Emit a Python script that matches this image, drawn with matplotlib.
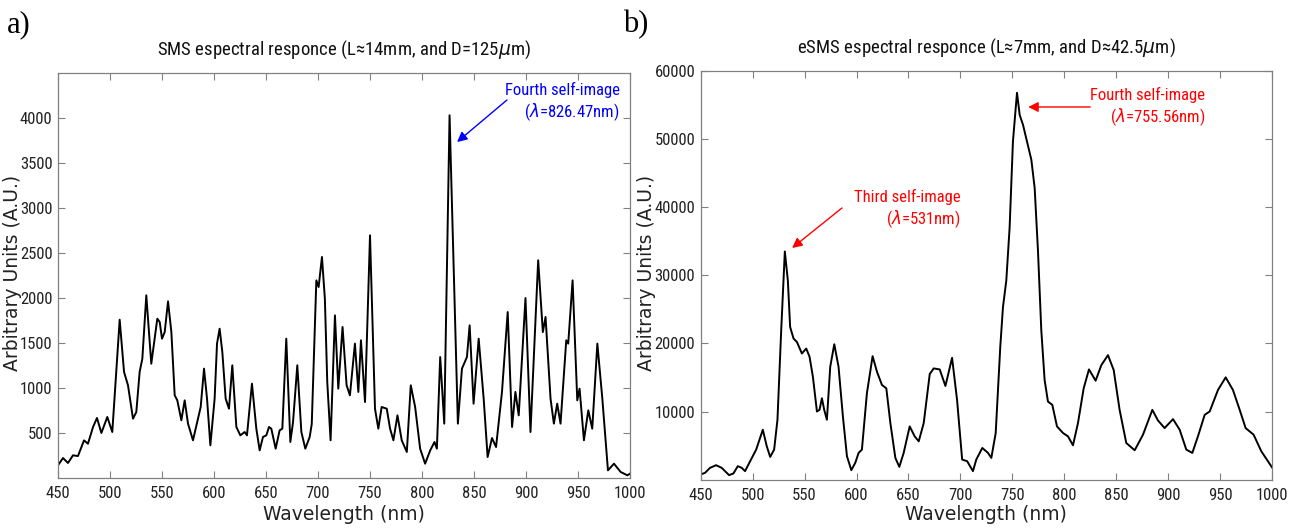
import matplotlib
matplotlib.use("Agg")
import matplotlib.pyplot as plt
from matplotlib import font_manager

# SMS spectrum (panel a)
sms_wl = [450, 454.8, 459.6, 464.4, 469.2, 475, 478.8, 483.7, 487.5, 491.7,
          497.4, 502.2, 509.3, 513.5, 517.3, 522.1, 525.3, 528.5, 531.1, 534.9,
          539.7, 542.9, 545.5, 547.8, 550, 552.6, 555.8, 559, 562.2, 564.7,
          568.6, 571.8, 575, 579.8, 584.6, 587.2, 590.4, 593.3, 596.5, 600.6,
          602.9, 605.4, 608, 611.2, 614.4, 617.6, 621.5, 625.3, 629.5, 631.7,
          636.5, 640.7, 643.9, 647.1, 650.3, 652.9, 655.1, 659.3, 663.1, 665.7,
          669.5, 673.4, 676, 680.1, 684, 687.8, 692, 694, 698.4, 700.6,
          703.8, 706.6, 708.9, 712.1, 716.3, 719.5, 723.6, 727.5, 730.7, 735.5,
          738.8, 741.3, 745.2, 750, 754.8, 758, 761.2, 766.1, 769.3, 772.5,
          776.4, 780.5, 785.4, 789.2, 793.4, 798.2, 803, 807.9, 812, 814.3,
          817.5, 821.4, 826.5, 830.4, 834.5, 838.4, 843.2, 845.8, 849.6, 854.5,
          859.3, 863.1, 867.3, 871.2, 876.9, 882.4, 886.6, 889.8, 893, 899.5,
          904.3, 911.7, 916.2, 918.8, 923.6, 926.8, 930, 933.2, 938.7, 940.6,
          944.8, 949.3, 951.5, 955.7, 959.9, 963.7, 968.6, 973.4, 978.8, 984.6,
          991, 997.5, 1000]
sms_val = [141, 222, 167, 252, 244, 418, 381, 567, 667, 500,
           678, 511, 1759, 1178, 1030, 659, 733, 1178, 1326, 2030,
           1270, 1548, 1770, 1733, 1548, 1622, 1963, 1622, 919, 863,
           641, 863, 604, 419, 659, 789, 1215, 881, 363, 881,
           1493, 1659, 1400, 881, 770, 1252, 567, 474, 511, 474,
           1048, 548, 307, 456, 474, 567, 548, 326, 530, 548,
           1548, 400, 622, 1252, 511, 326, 456, 600, 2196, 2122,
           2456, 1993, 1067, 419, 1807, 993, 1678, 1030, 919, 1493,
           956, 1530, 844, 2696, 770, 548, 789, 770, 548, 419,
           696, 419, 289, 1030, 789, 326, 159, 307, 400, 326,
           1344, 604, 4030, 2363, 604, 1215, 1344, 1696, 826, 1548,
           881, 233, 444, 344, 956, 1844, 567, 956, 696, 2000,
           511, 2419, 1622, 1789, 881, 604, 826, 604, 1530, 1493,
           2196, 863, 993, 419, 752, 548, 1493, 881, 85, 159,
           67, 30, 48]

# eSMS spectrum (panel b)
esms_wl = [450, 454.2, 459, 464.8, 470.2, 477.3, 481.5, 485.7, 489.5, 492.7,
           497.6, 503.4, 509.8, 513.6, 516.9, 520.7, 523.9, 527.5, 531, 533.9,
           536.1, 539.4, 542.6, 547.4, 551.6, 554.8, 558, 561.9, 564.4, 566.7,
           568.9, 571.5, 574.7, 578.6, 582.7, 586.9, 590.8, 595, 598.8, 602,
           605.2, 610, 615.5, 619.7, 624.5, 628.7, 632.6, 637.4, 641.2, 645.4,
           651.2, 656, 659.9, 664.7, 670.5, 674.3, 680.1, 685.6, 692, 696.8,
           701.7, 706.5, 712.1, 715.3, 721.1, 726.6, 729.8, 734, 738.4, 741,
           744.2, 747.4, 750.6, 754.5, 757.1, 760.3, 764.1, 768.3, 771.5, 774.7,
           777.9, 781.1, 784.3, 788.5, 793, 798.8, 803.6, 808.4, 813.2, 818.7,
           823.8, 830.2, 835.7, 842.1, 847.6, 853.3, 859.7, 867.8, 875.8, 884.8,
           890.2, 896.6, 904.7, 911.1, 917.5, 923.3, 928.7, 935.2, 940, 948,
           955.4, 962.4, 968.9, 974.6, 982.3, 989.7, 1000]
esms_val = [755, 998, 1728, 2117, 1728, 657, 900, 1971, 1728, 1241,
            2701, 4404, 7324, 4891, 3334, 4404, 8784, 21922, 33500, 29221,
            22408, 20705, 20219, 18516, 19245, 18029, 15109, 10000, 10243, 11946,
            10243, 8784, 16569, 19878, 16569, 9270, 3431, 1387, 2458, 3918,
            4404, 12676, 18126, 15839, 13893, 13406, 8297, 3188, 1874, 3918,
            7810, 6350, 5621, 8297, 15499, 16326, 16180, 13747, 17883, 11703,
            2944, 2701, 1241, 2944, 4647, 3918, 3188, 6837, 19489, 25328,
            29221, 37006, 49658, 56800, 53551, 52091, 49658, 46982, 42846, 33600,
            21922, 14623, 11460, 10973, 7810, 6837, 6350, 5037, 8297, 13406,
            16180, 14525, 16812, 18272, 16083, 10243, 5377, 4307, 6594, 10243,
            8686, 7567, 8881, 7324, 4404, 3918, 6350, 9513, 10000, 13163,
            15012, 13163, 10243, 7567, 6594, 4161, 1800]

x_ticks = [450, 500, 550, 600, 650, 700, 750, 800, 850, 900, 950, 1000]
sms_yticks = [500, 1000, 1500, 2000, 2500, 3000, 3500, 4000]
esms_yticks = [10000, 20000, 30000, 40000, 50000, 60000]

# pick a narrow sans if one is around, else Roboto
installed = {f.name for f in font_manager.fontManager.ttflist}
narrow_font = 'Roboto'
for cand in ['Liberation Sans Narrow', 'Roboto Condensed', 'Open Sans Condensed']:
    if cand in installed:
        narrow_font = cand
        break
plt.rcParams['font.family'] = [narrow_font, 'DejaVu Sans']
plt.rcParams['mathtext.fontset'] = 'dejavusans'

W, H = 1298, 528
fig = plt.figure(figsize=(W / 100, H / 100), dpi=100)
fig.patch.set_facecolor('white')

ax1 = fig.add_axes([58 / W, 1 - 478 / H, 572 / W, 405 / H])
ax2 = fig.add_axes([700.7 / W, 1 - 479.6 / H, 571.3 / W, 408.6 / H])


def style_axis(ax, yticks):
    ax.set_xlim(450, 1000)
    ax.set_xticks(x_ticks)
    ax.set_yticks(yticks)
    ax.tick_params(direction='in', top=True, right=True, length=5, width=0.8,
                   color='#808080', labelsize=12, labelcolor='#222222')
    ax.tick_params(axis='x', pad=6)
    ax.tick_params(axis='y', pad=4)
    for s in ax.spines.values():
        s.set_color('#808080')
        s.set_linewidth(0.9)


ax1.plot(sms_wl, sms_val, color='black', lw=1.4)
ax1.set_ylim(0, 4500)
style_axis(ax1, sms_yticks)

ax2.plot(esms_wl, esms_val, color='black', lw=1.4)
ax2.set_ylim(0, 60000)
style_axis(ax2, esms_yticks)

# titles, axis labels, panel letters
fig.text(344 / W, 1 - 50 / H, 'SMS espectral responce (L\u224814mm, and D=125$\\mu$m)',
         ha='center', va='center', fontsize=13.5, color='#111111')
fig.text(986 / W, 1 - 48 / H, 'eSMS espectral responce (L\u22487mm, and D\u224842.5$\\mu$m)',
         ha='center', va='center', fontsize=13.5, color='#111111')
for xc in [13, 647]:
    fig.text(xc / W, 1 - 273 / H, 'Arbitrary Units (A.U.)', rotation=90,
             ha='center', va='center', fontsize=13.5, family='DejaVu Sans', color='#222222')
for xc in [344, 986]:
    fig.text(xc / W, 1 - 515 / H, 'Wavelength (nm)', ha='center', va='center',
             fontsize=13.5, family='DejaVu Sans', color='#222222')
fig.text(7 / W, 1 - 25 / H, 'a)', ha='left', va='center', fontsize=22,
         family=['Liberation Serif', 'DejaVu Serif'])
fig.text(623 / W, 1 - 25 / H, 'b)', ha='left', va='center', fontsize=22,
         family=['Liberation Serif', 'DejaVu Serif'])

# annotations
arrow_kw = dict(arrowstyle='-|>', lw=1.0, mutation_scale=15, shrinkA=0, shrinkB=0)

ax1.text(990, 4311, 'Fourth self-image', color='blue', ha='right', va='center', fontsize=12)
ax1.text(990, 4067, r'($\lambda$=826.47nm)', color='blue', ha='right', va='center', fontsize=12)
ax1.annotate('', xy=(833.7, 3733), xytext=(881.7, 4200),
             arrowprops=dict(color='blue', **arrow_kw))

ax2.text(935.8, 56476, 'Fourth self-image', color='red', ha='right', va='center', fontsize=12)
ax2.text(935.8, 53245, r'($\lambda$=755.56nm)', color='red', ha='right', va='center', fontsize=12)
ax2.annotate('', xy=(765.3, 54714), xytext=(825, 54714),
             arrowprops=dict(color='red', **arrow_kw))

ax2.text(699.8, 41498, 'Third self-image', color='red', ha='right', va='center', fontsize=12)
ax2.text(699.8, 38267, r'($\lambda$=531nm)', color='red', ha='right', va='center', fontsize=12)
ax2.annotate('', xy=(538, 34009), xytext=(586, 39883),
             arrowprops=dict(color='red', **arrow_kw))

fig.savefig('out.png', dpi=100)
